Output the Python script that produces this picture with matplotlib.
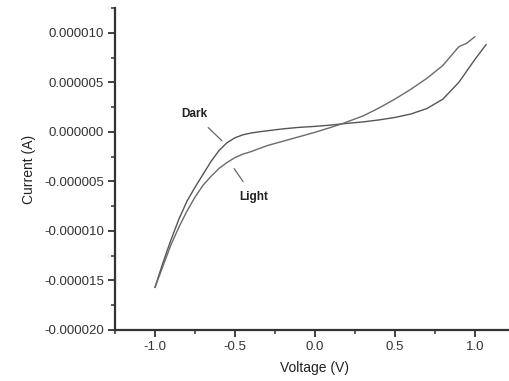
import numpy as np
import matplotlib
matplotlib.use("Agg")
import matplotlib.pyplot as plt
from matplotlib.ticker import MultipleLocator, FormatStrFormatter

plt.rcParams['font.family'] = ['Liberation Sans', 'DejaVu Sans']

# I-V sweep, current in microamps (scaled to amps below)
v_dark = [-1.0, -0.95, -0.9, -0.85, -0.8, -0.75, -0.7, -0.65, -0.6, -0.55, -0.5,
          -0.45, -0.4, -0.35, -0.3, -0.2, -0.1, 0.0, 0.1, 0.167, 0.3, 0.4, 0.5,
          0.6, 0.7, 0.8, 0.9, 1.0, 1.07]
i_dark = [-15.7, -13.2, -10.9, -8.8, -7.0, -5.6, -4.3, -3.0, -1.9, -1.1, -0.6,
          -0.3, -0.12, 0.0, 0.1, 0.3, 0.45, 0.55, 0.68, 0.8, 1.0, 1.2, 1.45,
          1.8, 2.35, 3.3, 5.0, 7.3, 8.8]
v_light = [-1.0, -0.9, -0.85, -0.8, -0.75, -0.7, -0.65, -0.6, -0.55, -0.5, -0.45,
           -0.4, -0.3, -0.2, -0.1, 0.0, 0.1, 0.167, 0.3, 0.4, 0.5, 0.6, 0.7,
           0.8, 0.9, 0.95, 1.0]
i_light = [-15.7, -11.4, -9.6, -8.0, -6.6, -5.4, -4.5, -3.7, -3.1, -2.6, -2.25,
           -2.0, -1.4, -0.95, -0.5, -0.05, 0.45, 0.8, 1.6, 2.4, 3.3, 4.3, 5.4,
           6.7, 8.6, 8.95, 9.6]

i_dark = np.array(i_dark) * 1e-6
i_light = np.array(i_light) * 1e-6

fig = plt.figure(figsize=(5.1, 3.81), dpi=100)
ax = fig.add_axes([0.2255, 0.134, 0.784, 0.845])

ax.plot(v_dark, i_dark, color='#555555', lw=1.0)
ax.plot(v_light, i_light, color='#6a6a6a', lw=1.0)

ax.set_xlim(-1.25, 1.25)
ax.set_ylim(-2.0e-5, 1.25e-5)
ax.xaxis.set_major_locator(MultipleLocator(0.5))
ax.xaxis.set_minor_locator(MultipleLocator(0.25))
ax.yaxis.set_major_locator(MultipleLocator(5e-6))
ax.yaxis.set_minor_locator(MultipleLocator(2.5e-6))
ax.xaxis.set_major_formatter(FormatStrFormatter('%.1f'))
ax.yaxis.set_major_formatter(FormatStrFormatter('%.6f'))

for s in ['top', 'right']:
    ax.spines[s].set_visible(False)
for s in ['left', 'bottom']:
    ax.spines[s].set_linewidth(1.6)
    ax.spines[s].set_color('#333333')

ax.tick_params(which='major', direction='out', length=5, width=1.3,
               labelsize=9.5, colors='#333333', pad=3)
ax.tick_params(which='minor', direction='out', length=3, width=1.1, colors='#333333')

ax.set_xlabel('Voltage (V)', fontsize=10, color='#222222', labelpad=6)
ax.set_ylabel('Current (A)', fontsize=10, color='#222222', labelpad=6)

ax.annotate('Dark', xy=(-0.575, -1.0e-6), xytext=(-0.756, 1.8e-6),
            fontsize=8.5, fontweight='bold', color='#222222', ha='center', va='center',
            arrowprops=dict(arrowstyle='-', color='#666666', lw=0.9, shrinkA=5, shrinkB=1))
ax.annotate('Light', xy=(-0.51, -3.6e-6), xytext=(-0.381, -6.6e-6),
            fontsize=8.5, fontweight='bold', color='#222222', ha='center', va='center',
            arrowprops=dict(arrowstyle='-', color='#666666', lw=0.9, shrinkA=6, shrinkB=1))

fig.savefig('out.png', dpi=100)
